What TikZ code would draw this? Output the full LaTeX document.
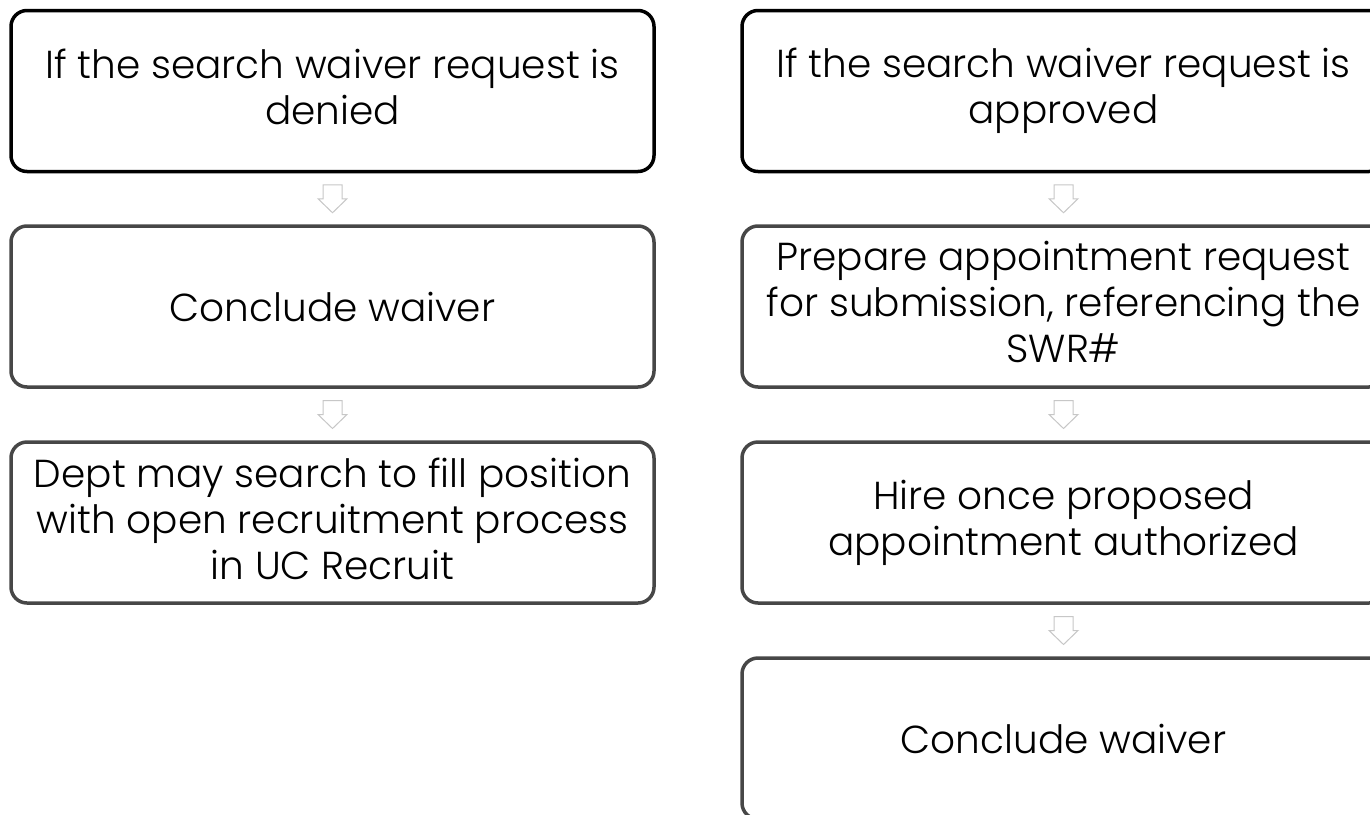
\documentclass[tikz,border=0pt]{standalone}
\usepackage{fontspec}
\setmainfont{Poppins Light}
\usetikzlibrary{calc}
\newcommand{\boxstrut}{\rule[-8.5pt]{0pt}{46pt}}
\tikzset{
  box/.style={draw=black!72, line width=3.5pt, rounded corners=16pt,
    minimum width=643pt, minimum height=161pt, inner sep=0pt,
    align=center, fill=white, font=\fontsize{39}{46}\selectfont,
    execute at begin node=\boxstrut, execute at end node=\boxstrut},
  topbox/.style={box, draw=black},
  barrow/.style={draw=black!22, line width=1pt, fill=white, line join=miter}
}
\newcommand{\blockdown}[1]{\draw[barrow] ($(#1)+(-9.5,-14)$) -- ++(19,0) -- ++(0,14) -- ++(5,0) -- ++(-14.5,14) -- ++(-14.5,-14) -- ++(5,0) -- cycle;}
\begin{document}
\begin{tikzpicture}[x=1pt,y=-1pt]
\useasboundingbox (0,0) rectangle (1370,814);
\clip (0,0) rectangle (1370,814);
% left column
\node[topbox] (L1) at (332.5,91) {If the search waiver request is\\denied};
\node[box] (L2) at (332.5,306.5) {Conclude waiver};
\node[box] (L3) at (332.5,522.5) {Dept may search to fill position\\with open recruitment process\\in UC Recruit};
% right column
\node[topbox] (R1) at (1063.5,91) {If the search waiver request is\\approved};
\node[box] (R2) at (1063.5,306.5) {Prepare appointment request\\for submission, referencing the\\SWR\#};
\node[box] (R3) at (1063.5,522.5) {Hire once proposed\\appointment authorized};
\node[box] (R4) at (1063.5,738.5) {Conclude waiver};
% connectors
\coordinate (a1) at ($(L1.south)!0.5!(L2.north)$);
\coordinate (a2) at ($(L2.south)!0.5!(L3.north)$);
\coordinate (a3) at ($(R1.south)!0.5!(R2.north)$);
\coordinate (a4) at ($(R2.south)!0.5!(R3.north)$);
\coordinate (a5) at ($(R3.south)!0.5!(R4.north)$);
\blockdown{a1}
\blockdown{a2}
\blockdown{a3}
\blockdown{a4}
\blockdown{a5}
\end{tikzpicture}
\end{document}
